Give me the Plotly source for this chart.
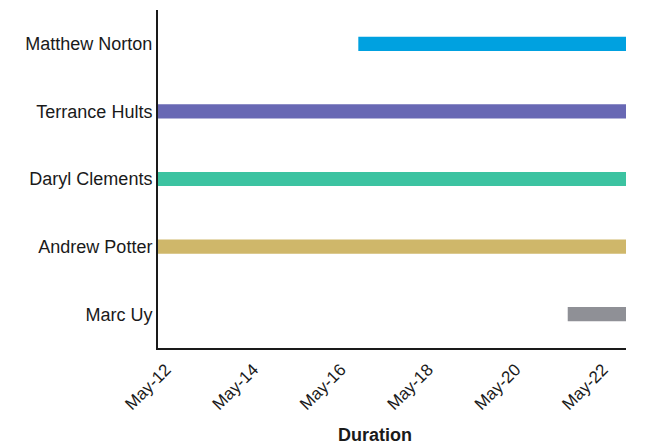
import plotly.graph_objects as go
import pandas as pd

names = ["Matthew Norton", "Terrance Hults", "Daryl Clements", "Andrew Potter", "Marc Uy"]
starts = ["2019-05-16 14:00", "2019-05-12 00:00", "2019-05-12 00:00", "2019-05-12 00:00", "2019-05-21 09:00"]
ends = ["2019-05-22 17:00", "2019-05-22 17:00", "2019-05-22 17:00", "2019-05-22 17:00", "2019-05-22 17:00"]
colors = ["#00A1E0", "#6868B4", "#3CC3A1", "#CFB76A", "#8F9096"]
tick_dates = ["2019-05-12", "2019-05-14", "2019-05-16", "2019-05-18", "2019-05-20", "2019-05-22"]
x_title = "Duration"

s = pd.to_datetime(starts)
e = pd.to_datetime(ends)
durations_ms = [(b - a).total_seconds() * 1000 for a, b in zip(s, e)]

fig = go.Figure()
fig.add_trace(go.Bar(
    y=names,
    x=durations_ms,
    base=[d.strftime("%Y-%m-%d %H:%M") for d in s],
    orientation="h",
    marker=dict(color=colors, line=dict(width=0)),
    width=0.21,
    showlegend=False,
))

fig.update_layout(
    width=653, height=446,
    margin=dict(l=150, r=35, t=2, b=106),
    paper_bgcolor="white", plot_bgcolor="white",
    font=dict(family="Liberation Sans, Arial, sans-serif", size=18, color="#1a1a1a"),
    xaxis=dict(
        type="date",
        range=[s.min().strftime("%Y-%m-%d %H:%M"), e.max().strftime("%Y-%m-%d %H:%M")],
        tickvals=tick_dates,
        tickformat="%b-%d",
        tickangle=-45,
        tickfont=dict(size=17),
        ticklabelshift=8,
        ticklabelstandoff=3,
        showgrid=False, zeroline=False,
        showline=True, linecolor="#1a1a1a", linewidth=2,
        ticks="",
    ),
    yaxis=dict(
        autorange="reversed",
        showgrid=False, zeroline=False,
        showline=True, linecolor="#1a1a1a", linewidth=2,
        ticks="",
        tickfont=dict(size=18),
    ),
    annotations=[dict(
        text="<b>" + x_title + "</b>", xref="paper", yref="paper",
        x=0.4637, y=-0.257, xanchor="center", yanchor="middle",
        showarrow=False, font=dict(size=18, color="#1a1a1a"),
    )],
)

fig.write_html("out.html")
